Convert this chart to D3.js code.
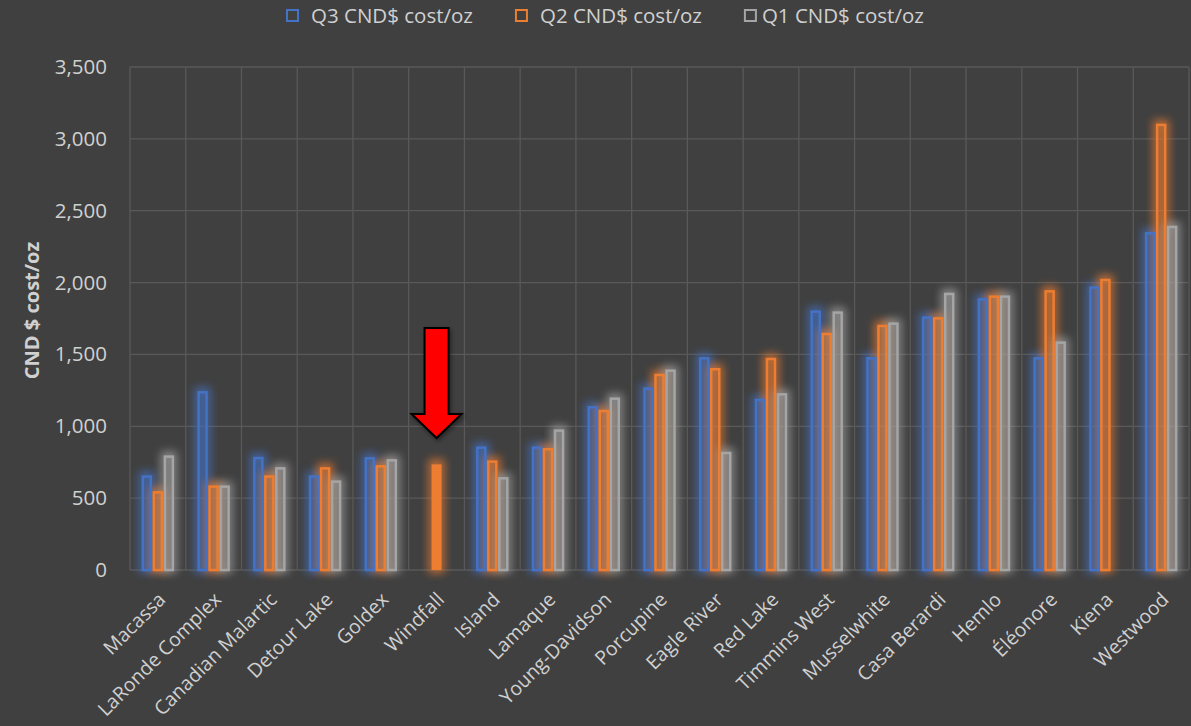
<!DOCTYPE html>
<html>
<head>
<meta charset="utf-8">
<script src="https://cdn.jsdelivr.net/npm/d3@7"></script>
<style>
  html, body { margin: 0; padding: 0; background: #404040; }
  svg text { font-family: "Open Sans", sans-serif; }
</style>
</head>
<body>
<div id="chart"></div>
<script>
// mines, sorted roughly by Q2 cost
const categories = ["Macassa", "LaRonde Complex", "Canadian Malartic", "Detour Lake", "Goldex", "Windfall",
  "Island", "Lamaque", "Young-Davidson", "Porcupine", "Eagle River", "Red Lake", "Timmins West",
  "Musselwhite", "Casa Berardi", "Hemlo", "Éléonore", "Kiena", "Westwood"]

const q3 = [650, 1236, 779, 650, 777, null, 851, 851, 1132, 1262, 1473, 1183, 1798, 1473, 1756, 1883, 1473, 1965, 2343]
const q2 = [540, 580, 650, 707, 721, 735, 754, 840, 1106, 1357, 1397, 1468, 1642, 1698, 1751, 1902, 1939, 2018, 3097]
const q1 = [789, 580, 707, 615, 763, null, 638, 970, 1192, 1387, 814, 1222, 1791, 1714, 1921, 1902, 1582, null, 2387]

const seriesNames = ["Q3 CND$ cost/oz", "Q2 CND$ cost/oz", "Q1 CND$ cost/oz"]
const yTicks = [0, 500, 1000, 1500, 2000, 2500, 3000, 3500]
const highlight = "Windfall"

const colors = ["#4472c4", "#ed7d31", "#a5a5a5"]
const seriesValues = [q3, q2, q1]

const width = 1191,
    height = 726
const margin = ({ top: 67, right: 2, bottom: 156, left: 130 })

const svg = d3.select("#chart").append("svg")
    .attr("width", width)
    .attr("height", height)
    .style("background", "#404040")

const defs = svg.append("defs")
const glow = defs.append("filter")
    .attr("id", "glow")
    .attr("x", "-100%").attr("y", "-20%")
    .attr("width", "300%").attr("height", "140%")
glow.append("feGaussianBlur").attr("stdDeviation", 4.5)

const shadow = defs.append("filter").attr("id", "shadow")
    .attr("x", "-30%").attr("y", "-20%").attr("width", "160%").attr("height", "140%")
shadow.append("feDropShadow")
    .attr("dx", 1.5).attr("dy", 2).attr("stdDeviation", 2)
    .attr("flood-color", "#000").attr("flood-opacity", 0.45)

const x = d3.scaleBand()
    .domain(categories)
    .range([margin.left, width - margin.right])

const x1 = d3.scaleBand()
    .domain(d3.range(seriesNames.length))
    .range([0, 33])

const y = d3.scaleLinear()
    .domain([0, 3500])
    .range([height - margin.bottom, margin.top])

// gridlines
const grid = svg.append("g")
    .attr("stroke", "#595959")
    .attr("stroke-width", 1.3)
grid.selectAll("line.h")
    .data(yTicks)
    .join("line")
    .attr("class", "h")
    .attr("x1", margin.left).attr("x2", width - margin.right)
    .attr("y1", d => y(d)).attr("y2", d => y(d))
grid.selectAll("line.v")
    .data(categories.concat(["__end"]))
    .join("line")
    .attr("class", "v")
    .attr("x1", (d, i) => i < categories.length ? x(d) : width - margin.right)
    .attr("x2", (d, i) => i < categories.length ? x(d) : width - margin.right)
    .attr("y1", y(3500)).attr("y2", y(0))

// y axis labels
svg.append("g")
    .attr("transform", `translate(${margin.left},0)`)
    .call(d3.axisLeft(y).tickValues(yTicks).tickFormat(d3.format(",")).tickSize(0).tickPadding(23))
    .call(g => g.select(".domain").remove())
    .call(g => g.selectAll("text")
        .attr("fill", "#d0d0d0")
        .attr("font-size", 20.5)
        .style("font-family", "'Open Sans', sans-serif"))

svg.append("text")
    .attr("transform", `translate(39,${(y(0) + y(3500)) / 2 - 8}) rotate(-90)`)
    .attr("text-anchor", "middle")
    .attr("fill", "#d0d0d0")
    .attr("font-size", 20)
    .attr("font-weight", "bold")
    .text("CND $ cost/oz")

// bars
const bars = []
categories.forEach((c, i) => {
    seriesValues.forEach((vals, s) => {
        if (vals[i] != null) bars.push({ cat: c, s: s, value: vals[i] })
    })
})

const barX = d => x(d.cat) + x.bandwidth() / 2 - 16.5 + x1(d.s) + 1.5
const barW = x1.bandwidth() - 3

const barG = svg.append("g")

barG.selectAll("rect.glow")
    .data(bars)
    .join("rect")
    .attr("class", "glow")
    .attr("x", d => barX(d) - 1)
    .attr("y", d => y(d.value) - 2)
    .attr("width", barW + 2)
    .attr("height", d => y(0) - y(d.value) + 2)
    .attr("fill", d => colors[d.s])
    .attr("fill-opacity", 0.4)
    .attr("stroke", d => colors[d.s])
    .attr("stroke-width", 6)
    .attr("opacity", 0.75)
    .attr("filter", "url(#glow)")

barG.selectAll("rect.bar")
    .data(bars)
    .join("rect")
    .attr("class", "bar")
    .attr("x", d => d.cat === highlight ? barX(d) - 1 : barX(d))
    .attr("y", d => y(d.value))
    .attr("width", d => d.cat === highlight ? barW + 2 : barW)
    .attr("height", d => y(0) - y(d.value))
    .attr("fill", d => colors[d.s])
    .attr("fill-opacity", d => d.cat === highlight ? 1 : 0.15)
    .attr("stroke", d => colors[d.s])
    .attr("stroke-width", d => d.cat === highlight ? 0 : 2.5)

// x labels
svg.append("g")
    .selectAll("text")
    .data(categories)
    .join("text")
    .attr("transform", d => `translate(${x(d) + x.bandwidth() / 2 + 4},596) rotate(-45)`)
    .attr("text-anchor", "end")
    .attr("dy", "0.35em")
    .attr("fill", "#d0d0d0")
    .attr("font-size", 19.5)
    .text(d => d)

// red arrow pointing at the highlighted mine
const ax = x(highlight) + x.bandwidth() / 2
const arrowTop = y(1684), arrowNeck = y(1085), arrowTip = y(918)
svg.append("path")
    .attr("d", d3.line()([
        [ax - 12, arrowTop], [ax + 12, arrowTop], [ax + 12, arrowNeck], [ax + 25, arrowNeck],
        [ax, arrowTip], [ax - 25, arrowNeck], [ax - 12, arrowNeck]
    ]) + "Z")
    .attr("fill", "#ff0000")
    .attr("stroke", "#000")
    .attr("stroke-width", 2)
    .attr("stroke-linejoin", "miter")
    .attr("filter", "url(#shadow)")

// legend
const legend = svg.append("g").attr("transform", "translate(286,0)")
let lx = 0
seriesNames.forEach((name, i) => {
    const g = legend.append("g").attr("transform", `translate(${lx},0)`)
    g.append("rect")
        .attr("x", 1).attr("y", 10)
        .attr("width", 11).attr("height", 11)
        .attr("fill", "none")
        .attr("stroke", colors[i])
        .attr("stroke-width", 2)
    const gap = i === 2 ? 18 : 25
    const t = g.append("text")
        .attr("x", gap).attr("y", 23)
        .attr("fill", "#d0d0d0")
        .attr("font-size", 20.5)
        .text(name)
    lx += gap + t.node().getComputedTextLength() + 42
})
</script>
</body>
</html>
